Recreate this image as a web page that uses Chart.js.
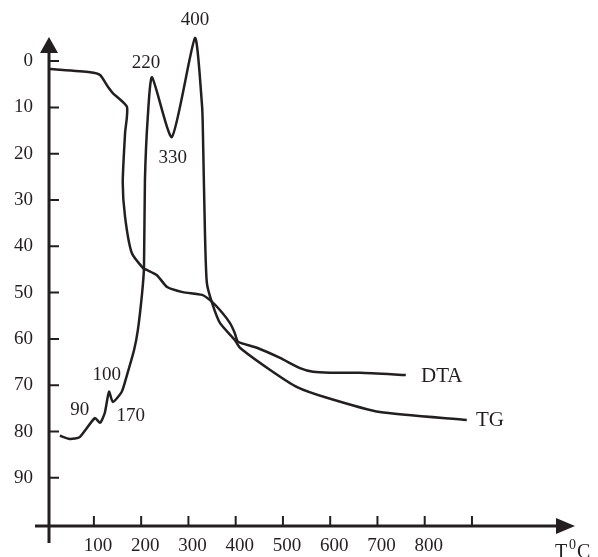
<!DOCTYPE html>
<html>
<head>
<meta charset="utf-8">
<script src="https://cdn.jsdelivr.net/npm/chart.js@4"></script>
<style>
  html, body { margin: 0; padding: 0; background: #fff; }
  #wrap { width: 598px; height: 557px; }
</style>
</head>
<body>
<div id="wrap"><canvas id="myChart"></canvas></div>
<script>
// curve ending at the "DTA" label
var dtaT = [7, 92, 113, 130, 140, 170, 166, 161, 166, 180, 204, 212, 233, 255, 288, 329, 350, 372, 388, 398, 405, 445, 494, 536, 564, 600, 663, 760];
var dtaV = [1.7, 2.4, 3.0, 5.6, 6.9, 9.9, 15.5, 26.3, 33.7, 41.4, 44.7, 45.1, 46.2, 48.8, 49.9, 50.5, 52.0, 54.4, 56.6, 58.7, 60.6, 61.9, 64.1, 66.3, 67.1, 67.3, 67.3, 67.8];
// curve ending at the "TG" label
var tgT = [28, 49, 70, 102, 113, 123, 132, 140, 159, 170, 185, 193, 202, 206, 208, 214, 223, 265, 314, 329, 331, 335, 339, 350, 367, 398, 409, 473, 530, 593, 705, 889];
var tgV = [80.9, 81.6, 81.2, 77.1, 78.1, 76.0, 71.4, 73.6, 71.4, 67.8, 62.4, 58.1, 50.1, 44.5, 25.7, 12.1, 3.5, 16.4, -5.0, 9.9, 17.1, 37.1, 47.9, 52.2, 56.6, 60.2, 61.9, 66.7, 70.4, 72.7, 75.8, 77.5];

var yTicks = [0, 10, 20, 30, 40, 50, 60, 70, 80, 90];
var xTicks = [100, 200, 300, 400, 500, 600, 700, 800, 900];
var xLabels = ["100", "200", "300", "400", "500", "600", "700", "800", ""];

// peak labels
var noteText = ["400", "220", "330", "100", "90", "170"];
var noteT = [314, 210, 267, 127, 70, 178];
var noteV = [-8.8, 0.4, 20.9, 67.8, 75.3, 76.6];
// curve names
var nameText = ["DTA", "TG"];
var nameT = [836, 938];
var nameV = [68.2, 77.7];

var ink = "#231f20";
var serif = "'Liberation Serif', 'DejaVu Serif', serif";

function pts(xs, ys) {
  var out = [];
  for (var i = 0; i < xs.length; i++) out.push({x: xs[i], y: ys[i]});
  return out;
}

var axesPlugin = {
  id: "axes",
  afterDraw: function(chart) {
    var ctx = chart.ctx;
    var xs = chart.scales.x, ys = chart.scales.y;
    var x0 = xs.left, y0 = ys.bottom;
    ctx.save();
    ctx.strokeStyle = ink;
    ctx.fillStyle = ink;
    ctx.lineWidth = 3;
    ctx.beginPath();
    ctx.moveTo(x0, ys.top + 12);
    ctx.lineTo(x0, y0 + 17);
    ctx.moveTo(x0 - 14, y0);
    ctx.lineTo(xs.right - 14, y0);
    ctx.stroke();
    // arrow heads
    ctx.beginPath();
    ctx.moveTo(x0, ys.top);
    ctx.lineTo(x0 - 9, ys.top + 16);
    ctx.lineTo(x0 + 9, ys.top + 16);
    ctx.closePath();
    ctx.fill();
    ctx.beginPath();
    ctx.moveTo(xs.right, y0);
    ctx.lineTo(xs.right - 19, y0 - 8);
    ctx.lineTo(xs.right - 19, y0 + 8);
    ctx.closePath();
    ctx.fill();
    // tick marks
    ctx.lineWidth = 2;
    ctx.beginPath();
    yTicks.forEach(function(v) {
      var p = ys.getPixelForValue(v);
      ctx.moveTo(x0, p); ctx.lineTo(x0 + 10, p);
    });
    xTicks.forEach(function(v) {
      var p = xs.getPixelForValue(v);
      ctx.moveTo(p, y0); ctx.lineTo(p, y0 - 10);
    });
    ctx.stroke();
    // labels
    ctx.textAlign = "center";
    ctx.textBaseline = "middle";
    ctx.font = "19px " + serif;
    for (var i = 0; i < noteText.length; i++) {
      ctx.fillText(noteText[i], xs.getPixelForValue(noteT[i]), ys.getPixelForValue(noteV[i]));
    }
    ctx.font = "21px " + serif;
    for (var j = 0; j < nameText.length; j++) {
      ctx.fillText(nameText[j], xs.getPixelForValue(nameT[j]), ys.getPixelForValue(nameV[j]));
    }
    // unit
    ctx.textAlign = "left";
    ctx.textBaseline = "alphabetic";
    ctx.font = "20px " + serif;
    ctx.fillText("T", 555, 558);
    ctx.font = "14px " + serif;
    ctx.fillText("0", 569, 549);
    ctx.font = "20px " + serif;
    ctx.fillText("C", 577, 558);
    ctx.restore();
  }
};

var lineStyle = {
  showLine: true,
  borderColor: ink,
  borderWidth: 2.5,
  pointRadius: 0,
  tension: 0.2,
  fill: false,
  clip: false
};

var ctx = document.getElementById("myChart").getContext("2d");
var chart = new Chart(ctx, {
  type: "scatter",
  data: {
    datasets: [
      Object.assign({label: "DTA", data: pts(dtaT, dtaV)}, lineStyle),
      Object.assign({label: "TG", data: pts(tgT, tgV)}, lineStyle)
    ]
  },
  options: {
    responsive: true,
    maintainAspectRatio: false,
    animation: false,
    events: [],
    layout: { padding: { top: 37, right: 23, left: 0, bottom: 0 } },
    plugins: { legend: { display: false }, tooltip: { enabled: false } },
    scales: {
      x: {
        type: "linear",
        min: 5,
        max: 1118,
        afterFit: function(s) { s.height = 31; },
        afterBuildTicks: function(s) { s.ticks = xTicks.map(function(v) { return {value: v}; }); },
        grid: { display: false, drawTicks: false },
        border: { display: false },
        ticks: {
          padding: 9,
          labelOffset: 4,
          maxRotation: 0,
          autoSkip: false,
          color: ink,
          font: { family: serif, size: 19 },
          callback: function(v) { var k = xTicks.indexOf(v); return k >= 0 ? xLabels[k] : ""; }
        }
      },
      y: {
        type: "linear",
        reverse: true,
        min: -5.2,
        max: 100.4,
        afterFit: function(s) { s.width = 49; },
        afterBuildTicks: function(s) { s.ticks = yTicks.map(function(v) { return {value: v}; }); },
        grid: { display: false, drawTicks: false },
        border: { display: false },
        ticks: {
          padding: 16,
          autoSkip: false,
          color: ink,
          font: { family: serif, size: 19 },
          callback: function(v) { return String(v); }
        }
      }
    }
  },
  plugins: [axesPlugin]
});
</script>
</body>
</html>
